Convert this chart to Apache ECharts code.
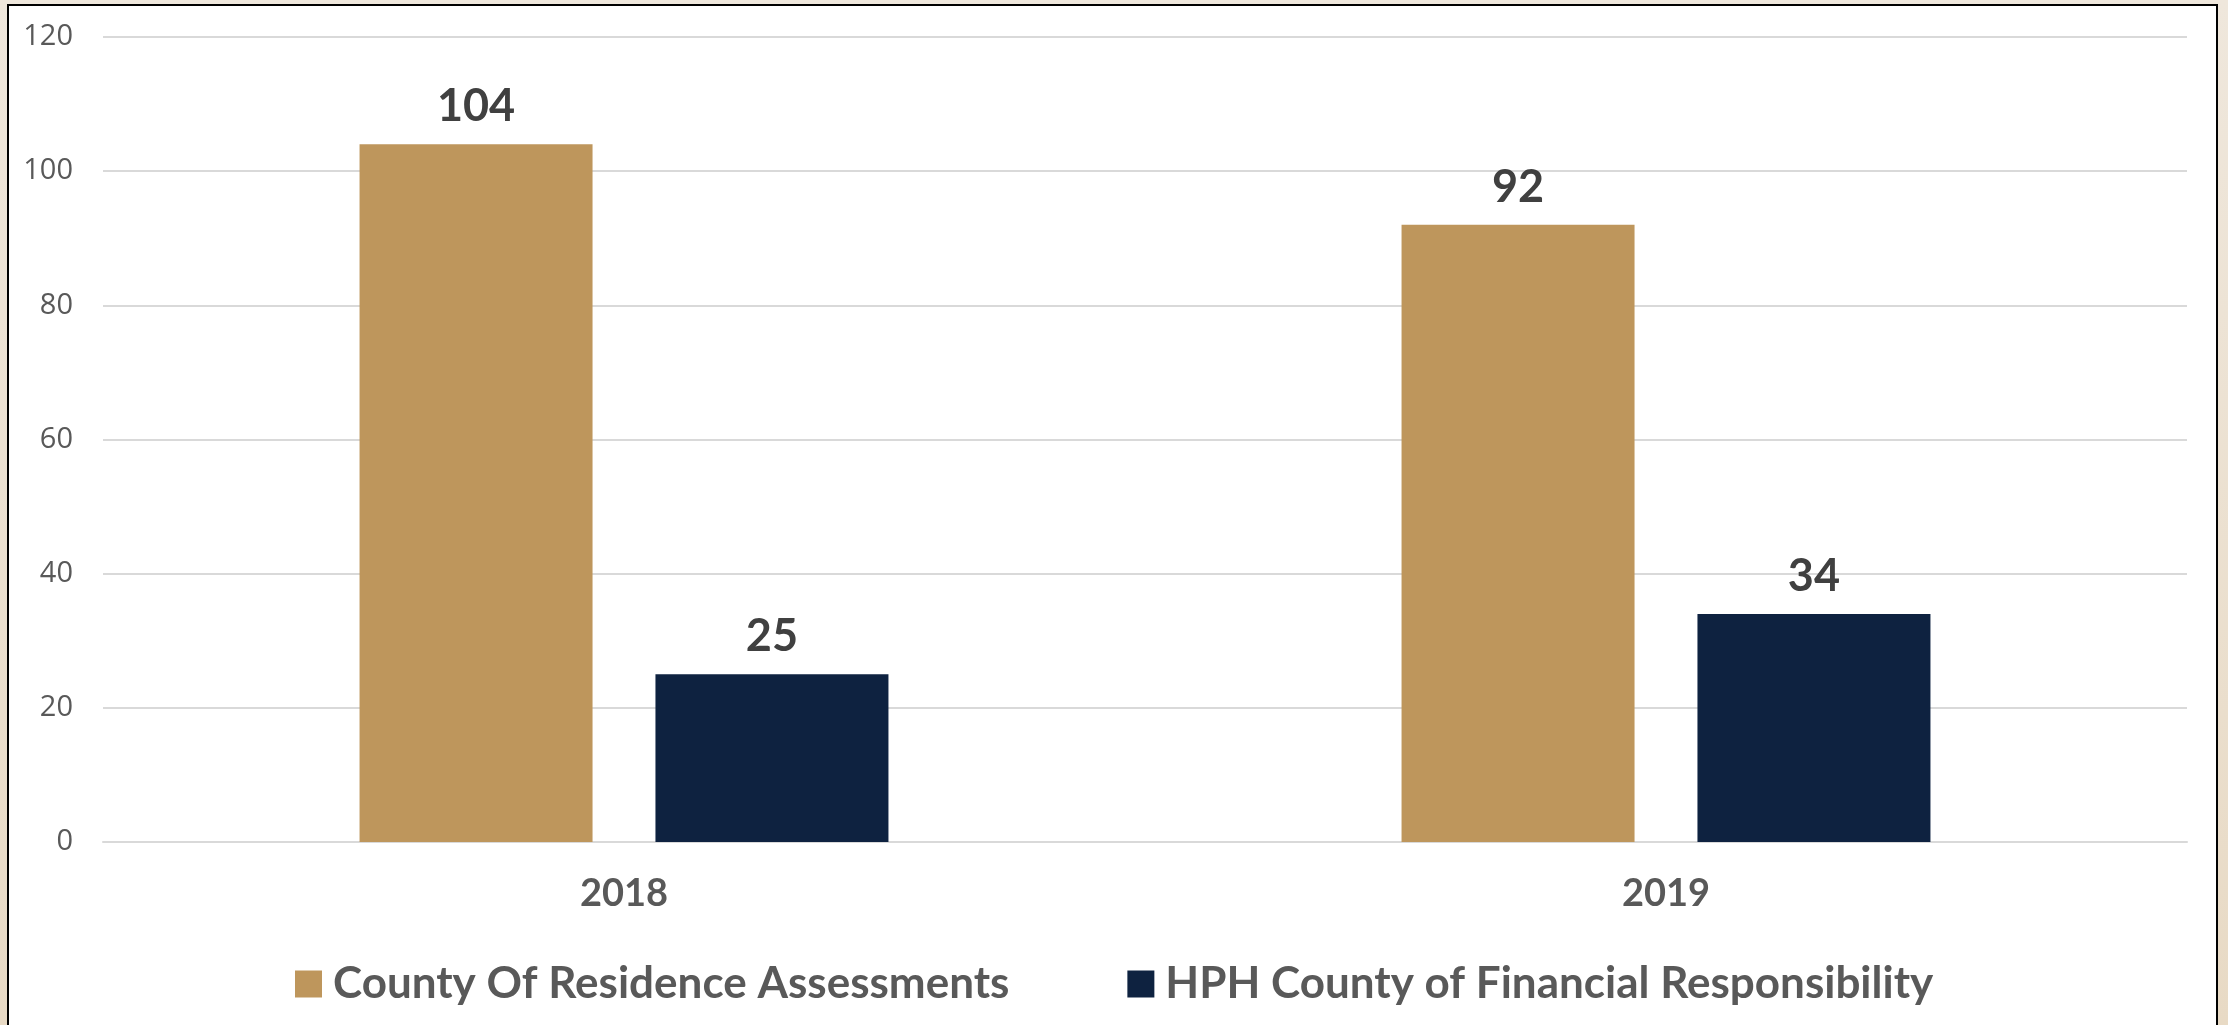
<!DOCTYPE html>
<html>
<head>
<meta charset="utf-8">
<script src="https://cdn.jsdelivr.net/npm/echarts@6/dist/echarts.min.js"></script>
<style>
	html, body { margin: 0; padding: 0; }
	body {
		width: 2228px; height: 1025px; overflow: hidden; position: relative;
		background: linear-gradient(to bottom, #efe7dc 0%, #e8dac5 100%);
	}
	#frame {
		position: absolute; left: 7px; top: 4px; width: 2207px; height: 1040px;
		background: #ffffff; border: 2px solid #000000; border-bottom: none;
	}
	#chart { position: absolute; left: 0; top: 0; width: 2228px; height: 1025px; }
</style>
</head>
<body>
<div id="frame"></div>
<div id="chart"></div>
<script>
	var categories = ['2018', '2019'];
	var seriesNames = ['County Of Residence Assessments', 'HPH County of Financial Responsibility'];
	var residenceValues = [104, 92];
	var financialValues = [25, 34];
	var seriesColors = ['#be965c', '#0e2240'];

	var chart = echarts.init(document.getElementById('chart'));

	var labelStyle = {
		show : true,
		position : 'top',
		distance : 15,
		color : '#404040',
		fontFamily : 'Lato',
		fontWeight : 'bold',
		fontSize : 45
	};

	chart.setOption({
		backgroundColor : 'transparent',
		animation : false,
		color : seriesColors,
		grid : {
			left : 103,
			right : 41,
			top : 37,
			bottom : 183
		},
		legend : {
			left : 290,
			top : 957,
			itemWidth : 27,
			itemHeight : 27,
			itemGap : 118,
			icon : 'rect',
			data : seriesNames,
			textStyle : {
				color : '#595959',
				fontFamily : 'Lato',
				fontWeight : 'bold',
				fontSize : 44,
				padding : [0, 0, 0, 6]
			}
		},
		xAxis : {
			type : 'category',
			data : categories,
			axisLine : { show : true, lineStyle : { color : '#d9d9d9', width : 2 } },
			axisTick : { show : false },
			axisLabel : {
				margin : 33,
				color : '#595959',
				fontFamily : 'Lato',
				fontWeight : 'bold',
				fontSize : 38
			}
		},
		yAxis : {
			type : 'value',
			min : 0,
			max : 120,
			interval : 20,
			axisLine : { show : false },
			axisTick : { show : false },
			splitLine : { lineStyle : { color : '#d9d9d9', width : 2 } },
			axisLabel : {
				margin : 30,
				color : '#595959',
				fontFamily : 'Open Sans',
				fontSize : 29
			}
		},
		series : [{
			name : seriesNames[0],
			type : 'bar',
			data : residenceValues,
			barWidth : 233,
			barGap : '27%',
			label : labelStyle
		}, {
			name : seriesNames[1],
			type : 'bar',
			data : financialValues,
			barWidth : 233,
			barGap : '27%',
			label : labelStyle
		}]
	});
</script>
</body>
</html>
